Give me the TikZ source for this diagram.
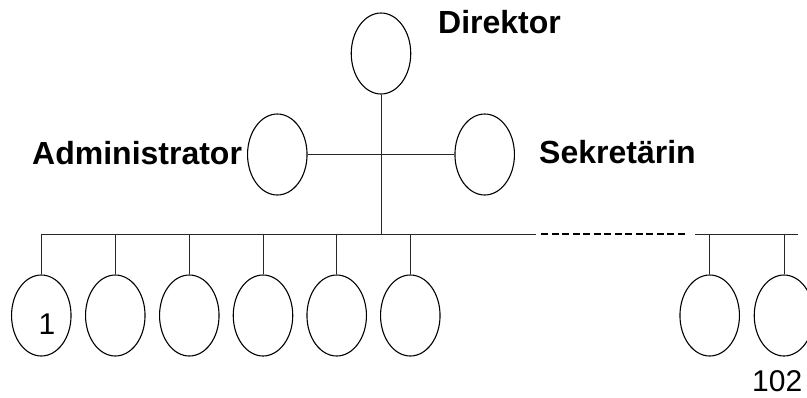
\documentclass[tikz,border=0pt]{standalone}
\usepackage{fontspec}
\setmainfont{Liberation Sans}
\usetikzlibrary{shapes.geometric}
\tikzset{
  member/.style={draw, ellipse, line width=1.1pt, minimum width=59.5pt, minimum height=81pt, inner sep=0pt},
  wire/.style={line width=1pt, draw=black!85},
  gapline/.style={line width=2.4pt, dash pattern=on 7pt off 3.5pt},
  role/.style={anchor=base west, inner sep=0pt, font=\fontsize{32}{32}\selectfont\bfseries},
  num/.style={anchor=base west, inner sep=0pt, font=\fontsize{30}{30}\selectfont}
}
\begin{document}
\begin{tikzpicture}[x=1pt, y=-1pt]
\useasboundingbox (0,0) rectangle (807,397);
\clip (0,0) rectangle (807,397);

% management
\node[member] (dir) at (381,53.5) {};
\node[member] (adm) at (277.3,154.5) {};
\node[member] (sek) at (484.7,154.5) {};
\node[role] (tdir) at (438,33) {Direktor};
\node[role] (tadm) at (32,164) {Administrator};
\node[role] (tsek) at (539,163.5) {Sekretärin};

% staff row
\foreach \i/\x in {1/41.3, 2/115.3, 3/189.3, 4/263, 5/336.7, 6/410.3, 7/709.7, 8/784}
  \node[member] (m\i) at (\x,315.5) {};
\node[num] (n1) at (38.5,334.5) {1};
\node[num] (n102) at (752,391.5) {102};

% bar coordinates
\coordinate (barL) at (42,234);
\coordinate (hub) at (381,234);
\coordinate (barA) at (536,234);
\coordinate (dashA) at (541,234);
\coordinate (dashB) at (687,234);
\coordinate (barB) at (695,234);
\coordinate (barR) at (798,234);

% connectors
\draw[wire] (dir.south) -- (hub);
\draw[wire] (adm.east) -- (sek.west);
\draw[wire] (barL) -- (barA);
\draw[gapline] (dashA) -- (dashB);
\draw[wire] (barB) -- (barR);
\foreach \i in {1,...,8}
  \draw[wire] (m\i.north) -- (m\i.north |- barL);
\end{tikzpicture}
\end{document}
